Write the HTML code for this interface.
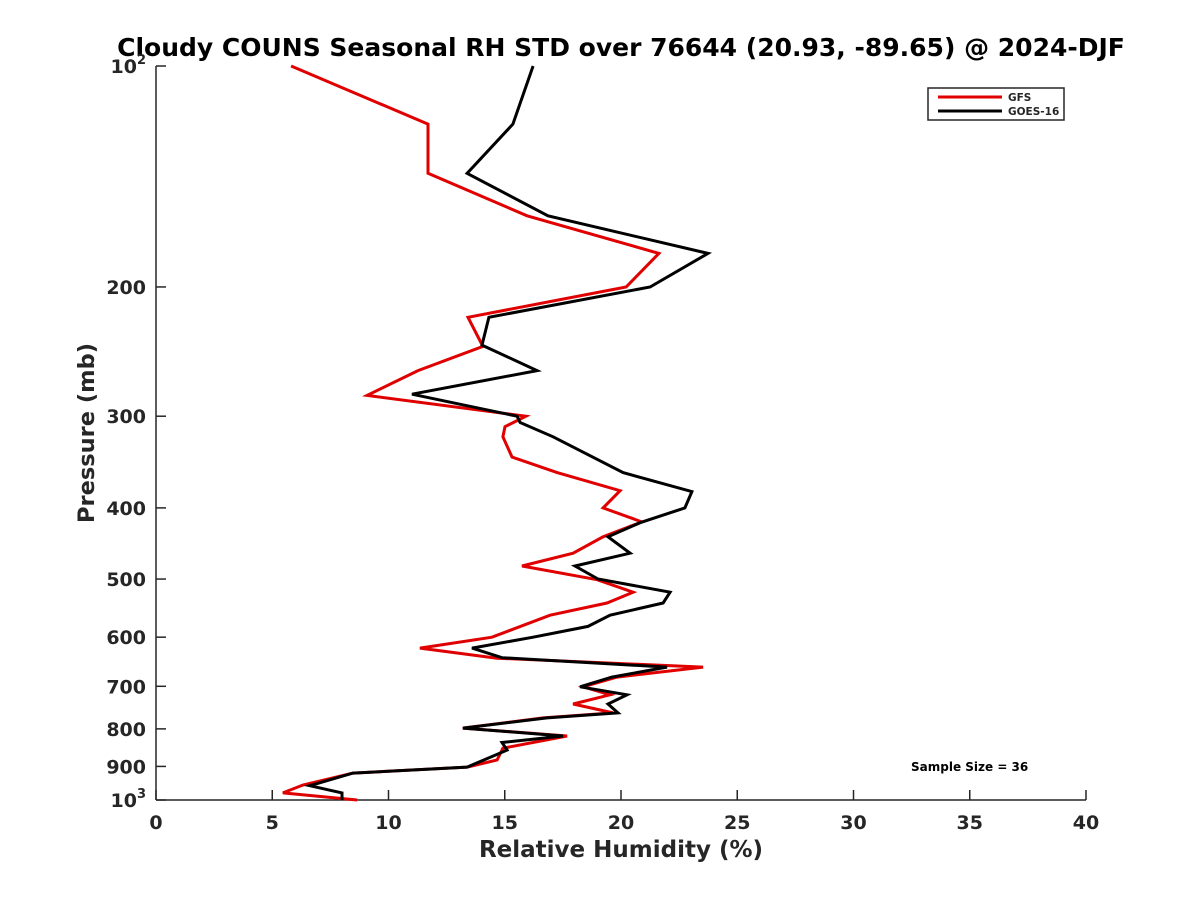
<!DOCTYPE html>
<html><head><meta charset="utf-8"><style>
html,body{margin:0;padding:0;background:#fff;}
svg text{font-family:"DejaVu Sans","Liberation Sans",sans-serif;font-weight:bold;fill:#262626;}
</style></head><body>
<svg id="chart" width="1200" height="900" viewBox="0 0 1200 900" xmlns="http://www.w3.org/2000/svg">
<rect width="1200" height="900" fill="#fff"/>
<text x="621" y="56" text-anchor="middle" font-size="25" style="fill:#000">Cloudy COUNS Seasonal RH STD over 76644 (20.93, -89.65) @ 2024-DJF</text>
<g id="axes"></g>
<g id="series"></g>
<text x="621" y="857" text-anchor="middle" font-size="23">Relative Humidity (%)</text>
<text transform="translate(94,433) rotate(-90)" text-anchor="middle" font-size="22.5">Pressure (mb)</text>
<g>
<rect x="928" y="88" width="136" height="32" fill="#fff" stroke="#262626" stroke-width="1.5"/>
<line x1="938" y1="97" x2="1002" y2="97" stroke="#e00000" stroke-width="3"/>
<text x="1008" y="101" font-size="10.5">GFS</text>
<line x1="938" y1="111" x2="1002" y2="111" stroke="#000" stroke-width="3"/>
<text x="1008" y="115" font-size="10.5">GOES-16</text>
</g>
<text x="911" y="771" font-size="12" style="fill:#000">Sample Size = 36</text>
</svg>
<script>
const xTicks=[0,5,10,15,20,25,30,35,40];
const yTicks=[100,200,300,400,500,600,700,800,900,1000];
const yTickLabels=["10²","200","300","400","500","600","700","800","900","10³"];
const gfsP=[100,120,140,160,180,200,220,241,260,281,300,310,320,341,358,379,400,418,438,461,480,501,521,539,560,600,621,641,659,680,701,719,740,761,773,798,818,850,882,902,919,954,978,1000];
const gfsRH=[5.81,11.7,11.7,15.96,21.63,20.22,13.42,14.06,11.27,9.08,15.91,15.01,14.92,15.31,17.25,19.96,19.23,20.9,19.23,17.94,15.74,18.97,20.52,19.4,16.95,14.45,11.35,14.67,23.53,19.83,18.37,19.53,17.94,19.66,16.65,13.2,17.68,14.92,14.67,13.38,8.47,6.32,5.46,8.65];
const goesP=[100,120,140,160,180,200,220,240,260,280,300,306,320,358,380,400,419,438,461,480,500,521,539,560,580,600,621,640,659,680,701,719,740,761,773,798,818,835,855,902,919,956,978,1000];
const goesRH=[16.22,15.35,13.38,16.86,23.74,21.25,14.32,14.02,16.39,11.01,15.53,15.66,17.08,20.09,23.05,22.75,20.82,19.44,20.39,18.02,19.01,22.11,21.81,19.53,18.58,16.22,13.59,14.88,21.98,19.61,18.24,20.26,19.44,19.87,16.82,13.2,17.51,14.88,15.1,13.38,8.47,6.62,8.0,8.0];
const L=156,R=1086,T=66,B=800,NS="http://www.w3.org/2000/svg";
const xs=v=>L+(v-0)/(40-0)*(R-L);
const ys=p=>T+Math.log10(p/100)*(B-T);
function mk(tag,attrs,parent){const e=document.createElementNS(NS,tag);for(const k in attrs)e.setAttribute(k,attrs[k]);parent.appendChild(e);return e;}
const ax=document.getElementById('axes');
const xa=mk('line',{x1:L,y1:B,x2:R,y2:B,stroke:'#262626','stroke-width':1.5},ax);


const ya=mk('line',{x1:L,y1:T,x2:L,y2:B,stroke:'#262626','stroke-width':1.5},ax);


xTicks.forEach(v=>{const x=xs(v);
 mk('line',{x1:x,y1:B,x2:x,y2:B-10,stroke:'#262626','stroke-width':1.5},ax);
 const t=mk('text',{x:x,y:B+29,'text-anchor':'middle','font-size':19},ax);t.textContent=v;
 
 });
yTicks.forEach((p,i)=>{const y=ys(p);
 mk('line',{x1:L,y1:y,x2:L+10,y2:y,stroke:'#262626','stroke-width':1.5},ax);
 const t=mk('text',{x:L-10,y:y+7,'text-anchor':'end','font-size':19},ax);
 const lab=yTickLabels[i];
 if(lab.length===3&&(lab[2]==='²'||lab[2]==='³')){t.textContent='10';const s=mk('tspan',{dy:-9,'font-size':13},t);s.textContent=lab[2]==='²'?'2':'3';}
 else t.textContent=lab;
 
 });
const sg=document.getElementById('series');
function line(P,V,c,name){const d=P.map((p,i)=>(i?'L':'M')+xs(V[i]).toFixed(1)+' '+ys(p).toFixed(1)).join(' ');
 const e=mk('path',{d:d,fill:'none',stroke:c,'stroke-width':3,'stroke-linejoin':'miter'},sg);
 
 }
line(gfsP,gfsRH,'#e00000','gfs-line');
line(goesP,goesRH,'#000000','goes16-line');
</script>
</body></html>
